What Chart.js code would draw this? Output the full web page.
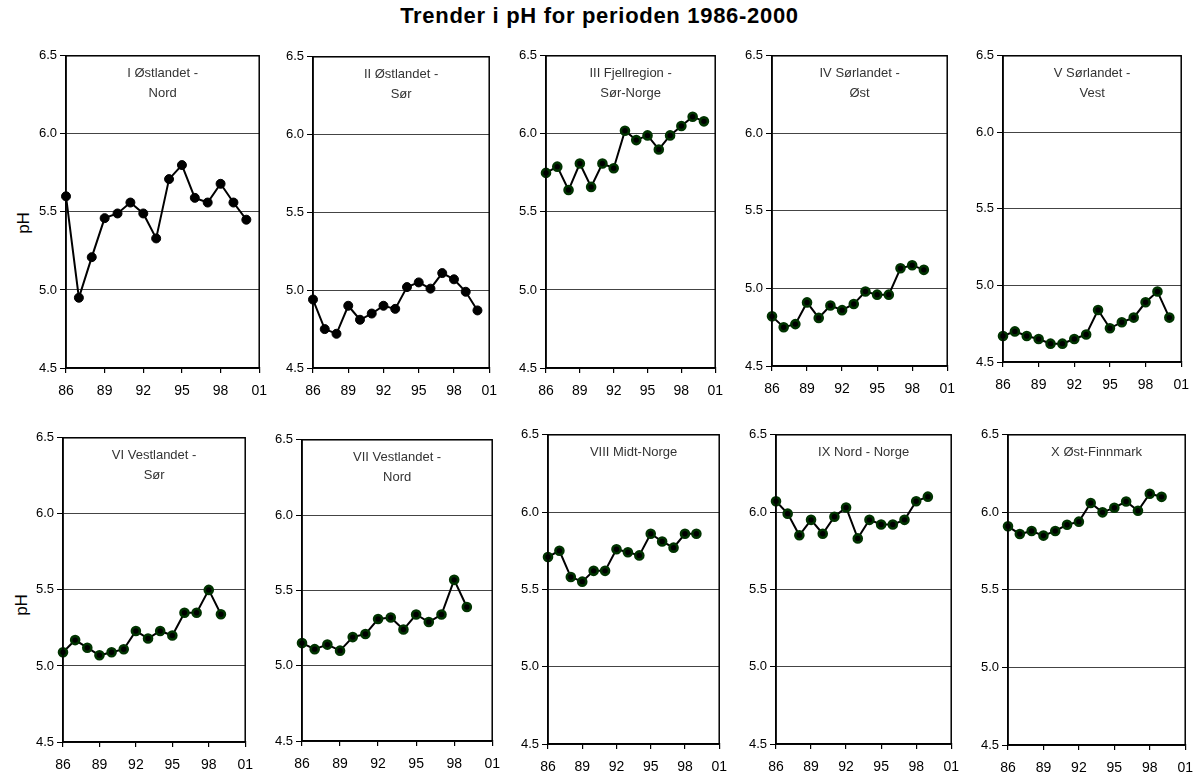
<!DOCTYPE html>
<html>
<head>
<meta charset="utf-8">
<script src="https://cdn.jsdelivr.net/npm/chart.js@4/dist/chart.umd.min.js"></script>
<style>
  body { margin: 0; background: #fff; width: 1199px; height: 778px; position: relative; overflow: hidden; }
  #title { position: absolute; left: 0; top: 3px; width: 1199px; text-align: center;
           font: bold 22px 'Liberation Sans', Arial, sans-serif; letter-spacing: 0.7px; color: #000; }
  .ph { position: absolute; font: 17px 'Liberation Sans', Arial, sans-serif; color: #000;
        transform: translate(-50%, -50%) rotate(-90deg); }
  canvas { position: absolute; }
</style>
</head>
<body>
<div id="title">Trender i pH for perioden 1986-2000</div>
<div class="ph" style="left:24px; top:223px;">pH</div>
<div class="ph" style="left:22px; top:605px;">pH</div>

<script>
// years 1986-2000
const years = [1986, 1987, 1988, 1989, 1990, 1991, 1992, 1993, 1994, 1995, 1996, 1997, 1998, 1999, 2000];
const yTicks = [4.5, 5.0, 5.5, 6.0, 6.5];

const phOstNord   = [5.60, 4.95, 5.21, 5.46, 5.49, 5.56, 5.49, 5.33, 5.71, 5.80, 5.59, 5.56, 5.68, 5.56, 5.45];
const phOstSor    = [4.94, 4.75, 4.72, 4.90, 4.81, 4.85, 4.90, 4.88, 5.02, 5.05, 5.01, 5.11, 5.07, 4.99, 4.87];
const phFjell     = [5.75, 5.79, 5.64, 5.81, 5.66, 5.81, 5.78, 6.02, 5.96, 5.99, 5.90, 5.99, 6.05, 6.11, 6.08];
const phSorOst    = [4.82, 4.75, 4.77, 4.91, 4.81, 4.89, 4.86, 4.90, 4.98, 4.96, 4.96, 5.13, 5.15, 5.12];
const phSorVest   = [4.67, 4.70, 4.67, 4.65, 4.62, 4.62, 4.65, 4.68, 4.84, 4.72, 4.76, 4.79, 4.89, 4.96, 4.79];
const phVestSor   = [5.09, 5.17, 5.12, 5.07, 5.09, 5.11, 5.23, 5.18, 5.23, 5.20, 5.35, 5.35, 5.50, 5.34];
const phVestNord  = [5.15, 5.11, 5.14, 5.10, 5.19, 5.21, 5.31, 5.32, 5.24, 5.34, 5.29, 5.34, 5.57, 5.39];
const phMidt      = [5.71, 5.75, 5.58, 5.55, 5.62, 5.62, 5.76, 5.74, 5.72, 5.86, 5.81, 5.77, 5.86, 5.86];
const phNord      = [6.07, 5.99, 5.85, 5.95, 5.86, 5.97, 6.03, 5.83, 5.95, 5.92, 5.92, 5.95, 6.07, 6.10];
const phFinnmark  = [5.91, 5.86, 5.88, 5.85, 5.88, 5.92, 5.94, 6.06, 6.00, 6.03, 6.07, 6.01, 6.12, 6.10];

const panelTitles = [
  ['I Østlandet -', 'Nord'], ['II Østlandet -', 'Sør'], ['III Fjellregion -', 'Sør-Norge'],
  ['IV Sørlandet -', 'Øst'], ['V Sørlandet -', 'Vest'], ['VI Vestlandet -', 'Sør'],
  ['VII Vestlandet -', 'Nord'], ['VIII Midt-Norge'], ['IX Nord - Norge'], ['X Øst-Finnmark']
];
const panelSeries = [phOstNord, phOstSor, phFjell, phSorOst, phSorVest,
                     phVestSor, phVestNord, phMidt, phNord, phFinnmark];

// plot area boxes: left, top, right, bottom
const boxes = [
  [66, 55, 261, 368], [313, 56, 491, 368], [546, 55, 717, 368], [772, 55, 949, 366], [1003, 55, 1183, 362],
  [63, 437, 247, 742], [302, 439, 494, 741], [548, 434, 721, 744], [776, 434, 953, 744], [1008, 434, 1187, 745]
];

const FONT = "'Liberation Sans Narrow', 'Arial Narrow', 'Liberation Sans', sans-serif";
const Y_W = 45, X_H = 40, PAD_T = 10, PAD_R = 16;

const framePlugin = {
  id: 'frame',
  afterDraw(chart, args, opts) {
    const a = chart.chartArea, ctx = chart.ctx;
    ctx.save();
    ctx.strokeStyle = '#000';
    ctx.lineWidth = 1.5;
    ctx.strokeRect(a.left, a.top, a.right - a.left, a.bottom - a.top);
    ctx.fillStyle = '#333';
    ctx.font = '13px ' + FONT;
    ctx.textAlign = 'center';
    ctx.textBaseline = 'middle';
    const cx = (a.left + a.right) / 2;
    opts.lines.forEach((t, i) => ctx.fillText(t, cx, a.top + 18 + i * 20));
    ctx.restore();
  }
};

panelSeries.forEach((vals, i) => {
  const [L, T, R, B] = boxes[i];
  const cv = document.createElement('canvas');
  const w = R - L + Y_W + PAD_R, h = B - T + PAD_T + X_H;
  cv.width = w; cv.height = h;
  cv.style.left = (L - Y_W) + 'px';
  cv.style.top = (T - PAD_T) + 'px';
  cv.style.width = w + 'px';
  cv.style.height = h + 'px';
  document.body.appendChild(cv);

  const green = i >= 2;
  new Chart(cv.getContext('2d'), {
    type: 'line',
    data: {
      datasets: [{
        data: vals.map((v, k) => ({ x: years[k], y: v })),
        borderColor: '#000',
        borderWidth: 2,
        pointRadius: green ? 4 : 4.5,
        pointBackgroundColor: '#000',
        pointBorderColor: green ? '#003300' : '#000',
        pointBorderWidth: green ? 2.6 : 1,
        tension: 0,
        clip: false
      }]
    },
    options: {
      responsive: false,
      animation: false,
      layout: { padding: { left: 0, top: PAD_T, right: PAD_R, bottom: 0 } },
      plugins: { legend: { display: false }, tooltip: { enabled: false }, frame: { lines: panelTitles[i] } },
      scales: {
        x: {
          type: 'linear', min: 1986, max: 2001,
          afterFit: s => { s.height = X_H; },
          ticks: { stepSize: 3, color: '#000', padding: 10, maxRotation: 0,
                   font: { family: FONT, size: 14 },
                   callback: v => String(v % 100).padStart(2, '0') },
          grid: { drawOnChartArea: false, drawTicks: true, tickLength: 5, color: '#000', lineWidth: 1.2 },
          border: { display: true, color: '#000', width: 1.5 }
        },
        y: {
          min: 4.5, max: 6.5,
          afterFit: s => { s.width = Y_W; },
          afterBuildTicks: s => { s.ticks = yTicks.map(v => ({ value: v })); },
          ticks: { color: '#000', padding: 3, font: { family: FONT, size: 13 },
                   callback: v => v.toFixed(1) },
          grid: { color: '#444', lineWidth: 1, tickLength: 6, tickColor: '#000' },
          border: { display: true, color: '#000', width: 1.5 }
        }
      }
    },
    plugins: [framePlugin]
  });
});
</script>
</body>
</html>
